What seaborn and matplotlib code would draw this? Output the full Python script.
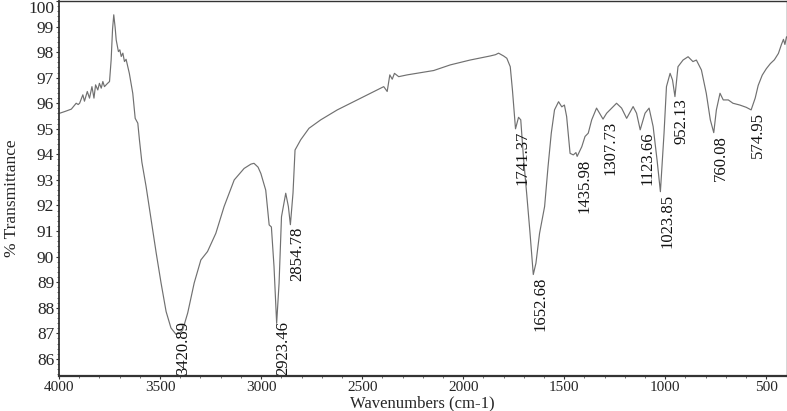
import numpy as np
import pandas as pd
import matplotlib
matplotlib.use("Agg")
import matplotlib.pyplot as plt
import seaborn as sns
from matplotlib.ticker import MultipleLocator, FixedLocator

# ---- data ----
wavenumber = [4000, 3970, 3939, 3915, 3905, 3898, 3882, 3874, 3860, 3849, 3837, 3827,
              3819, 3808, 3800, 3791, 3783, 3775, 3762, 3750, 3742, 3735, 3729, 3722,
              3717, 3706, 3699, 3692, 3684, 3676, 3668, 3652, 3635, 3623, 3610, 3602,
              3590, 3569, 3544, 3519, 3495, 3470, 3446, 3421, 3400, 3388, 3363, 3331,
              3298, 3265, 3224, 3183, 3133, 3084, 3050, 3035, 3015, 3001, 2977, 2960,
              2949, 2936, 2923, 2911, 2899, 2878, 2865, 2855, 2842, 2832, 2804, 2763,
              2705, 2623, 2524, 2425, 2393, 2376, 2363, 2351, 2340, 2319, 2277, 2146,
              2064, 1966, 1866, 1840, 1825, 1800, 1784, 1767, 1756, 1741, 1726, 1715,
              1702, 1685, 1670, 1653, 1640, 1622, 1597, 1580, 1564, 1548, 1528, 1512,
              1499, 1488, 1471, 1455, 1442, 1436, 1413, 1397, 1381, 1364, 1340, 1308,
              1290, 1265, 1241, 1216, 1191, 1159, 1142, 1124, 1100, 1080, 1060, 1040,
              1024, 1006, 994, 976, 964, 952, 937, 912, 887, 863, 846, 821, 797, 777,
              760, 747, 729, 713, 688, 665, 631, 599, 575, 555, 540, 520, 500, 480,
              460, 440, 425, 415, 408, 400]
transmittance = [95.60, 95.68, 95.77, 96.00, 95.95, 96.00, 96.33, 96.08, 96.46, 96.20, 96.65, 96.20,
                 96.72, 96.52, 96.78, 96.59, 96.85, 96.65, 96.76, 96.85, 97.69, 98.90, 99.46, 98.95,
                 98.48, 98.02, 98.09, 97.83, 97.96, 97.63, 97.72, 97.17, 96.39, 95.41, 95.22, 94.57,
                 93.70, 92.74, 91.43, 90.14, 88.97, 87.85, 87.21, 86.96, 87.02, 87.13, 87.80, 88.97,
                 89.87, 90.20, 90.91, 91.96, 93.00, 93.45, 93.62, 93.65, 93.50, 93.25, 92.60, 91.24,
                 91.16, 89.61, 87.39, 88.96, 91.56, 92.48, 91.96, 91.25, 92.49, 94.17, 94.57, 95.02,
                 95.35, 95.74, 96.13, 96.52, 96.65, 96.46, 97.11, 96.94, 97.17, 97.04, 97.11, 97.28,
                 97.50, 97.69, 97.85, 97.90, 97.96, 97.85, 97.76, 97.43, 96.50, 95.00, 95.45, 95.35,
                 93.91, 92.40, 91.00, 89.30, 89.74, 90.91, 91.96, 93.52, 94.83, 95.74, 96.06, 95.86,
                 95.93, 95.48, 94.04, 93.98, 94.07, 93.92, 94.30, 94.70, 94.83, 95.35, 95.81, 95.38,
                 95.61, 95.81, 96.00, 95.81, 95.41, 95.87, 95.61, 94.96, 95.61, 95.81, 95.09, 93.74,
                 92.54, 94.83, 96.65, 97.17, 96.91, 96.26, 97.43, 97.69, 97.82, 97.63, 97.69, 97.30, 96.39, 95.35,
                 94.85, 95.74, 96.39, 96.13, 96.13, 96.00, 95.93, 95.84, 95.74, 96.20, 96.70, 97.10, 97.35, 97.55,
                 97.70, 97.95, 98.30, 98.50, 98.30, 98.60]

peak_labels = ["3420.89", "2923.46", "2854.78", "1741.37", "1652.68", "1435.98",
               "1307.73", "1123.66", "1023.85", "952.13", "760.08", "574.95"]
peak_wn = [3420.89, 2923.46, 2854.78, 1741.37, 1652.68, 1435.98,
           1307.73, 1123.66, 1023.85, 952.13, 760.08, 574.95]
peak_T = [86.96, 87.39, 91.25, 95.00, 89.30, 93.92,
          95.38, 94.96, 92.54, 96.26, 94.85, 95.74]

x_ticks = [4000, 3500, 3000, 2500, 2000, 1500, 1000, 500]
y_ticks = [86, 87, 88, 89, 90, 91, 92, 93, 94, 95, 96, 97, 98, 99, 100]

# ---- style ----
sns.set_style("ticks")
plt.rcParams['font.family'] = ['Liberation Serif', 'DejaVu Serif']

W, H = 787, 411
fig = plt.figure(figsize=(W / 100, H / 100), dpi=100)
left_px, right_px, top_px, bottom_px = 59, 786.5, 1, 376
ax = fig.add_axes([left_px / W, (H - bottom_px) / H,
                   (right_px - left_px) / W, (bottom_px - top_px) / H])

df = pd.DataFrame({"Wavenumber": wavenumber, "Transmittance": transmittance})
sns.lineplot(data=df, x="Wavenumber", y="Transmittance", sort=False, estimator=None,
             color="#707070", linewidth=0.85, ax=ax)

ymin, ymax = 85.33, 100.0
ax.set_xlim(4000, 400)
ax.set_ylim(ymin, ymax)
ax.xaxis.set_major_locator(FixedLocator(x_ticks))
ax.yaxis.set_major_locator(FixedLocator(y_ticks))
ax.xaxis.set_minor_locator(MultipleLocator(100))
ax.yaxis.set_minor_locator(MultipleLocator(0.2))
ax.set_xticklabels([str(t) for t in x_ticks])
ax.set_yticklabels([str(t) for t in y_ticks])

ax.tick_params(axis='both', which='major', direction='out', length=2.5, width=0.8,
               color='#333333')
ax.tick_params(axis='both', which='minor', direction='out', length=1.5, width=0.6,
               color='#555555')
ax.tick_params(axis='x', which='major', pad=0.8, labelsize=11)
ax.tick_params(axis='y', which='major', pad=1.0, labelsize=12.5)

for s in ax.spines.values():
    s.set_visible(True)
    s.set_color('#333333')
    s.set_linewidth(1.0)
ax.spines['bottom'].set_linewidth(1.6)
ax.spines['left'].set_linewidth(1.3)

# top label "100" sits below the frame edge
ax.yaxis.get_major_ticks()[-1].label1.set_verticalalignment('top')

ax.set_xlabel("Wavenumbers (cm-1)", fontsize=12)
ax.set_ylabel("% Transmittance", fontsize=12.5)
ax.xaxis.set_label_coords(0.5, -0.052)
ax.xaxis.label.set_verticalalignment('top')
ax.yaxis.set_label_coords(-0.054, 0.475)

# peak annotations
label_len = 2.1  # approx length of rotated label in data units
for lab, w, t in zip(peak_labels, peak_wn, peak_T):
    if t - label_len < ymin:
        ax.annotate(lab, xy=(w, ymin), xytext=(7, 1), textcoords='offset pixels',
                    rotation=90, ha='center', va='bottom', fontsize=12, color='#111111')
    else:
        ax.annotate(lab, xy=(w, t), xytext=(7, -2), textcoords='offset pixels',
                    rotation=90, ha='center', va='top', fontsize=12, color='#111111')

fig.savefig("out.png", dpi=100, facecolor='white')
